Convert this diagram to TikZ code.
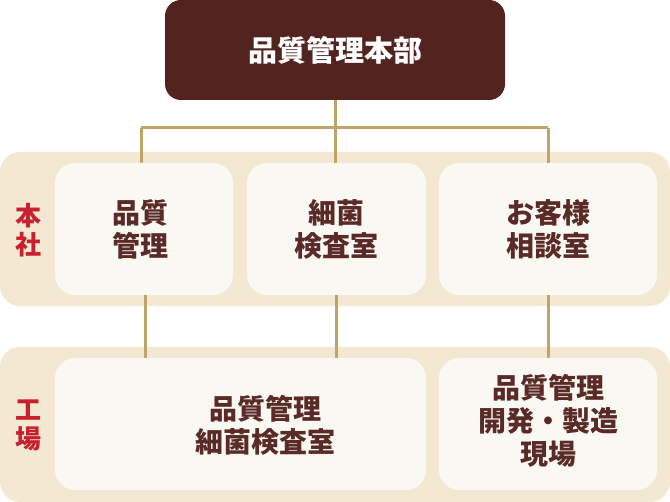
\documentclass[tikz,border=0pt]{standalone}
\usepackage{fontspec}
\newfontfamily\jp{Noto Sans CJK JP}
\definecolor{maroon}{HTML}{52231F}
\definecolor{txt}{HTML}{5A2A27}
\definecolor{band}{HTML}{F3E9D3}
\definecolor{card}{HTML}{FAF8F2}
\definecolor{wire}{HTML}{BFA46A}
\definecolor{lab}{HTML}{C8202F}
\tikzset{
  bandbox/.style={fill=band,rounded corners=20pt},
  cardbox/.style={fill=card,rounded corners=20pt,minimum height=132pt,inner sep=0pt},
  cardtext/.style={text=txt,font=\jp\bfseries\fontsize{28}{33}\selectfont,align=center},
  sidelab/.style={text=lab,font=\jp\bfseries\fontsize{26}{29}\selectfont,align=center},
  wireline/.style={draw=wire,line width=3pt}
}
\begin{document}
\begin{tikzpicture}[x=1pt,y=-1pt]
\useasboundingbox (0,0) rectangle (670,502);
% bands
\path[bandbox] (0,152) rectangle (670,306);
\path[bandbox] (0,347) rectangle (670,502);
% top node
\node[fill=maroon,rounded corners=16pt,minimum width=340pt,minimum height=100pt,inner sep=0pt,
      text=white,font=\jp\bfseries\fontsize{29}{32}\selectfont] (top) at (335,50) {品質管理本部};
% connector coordinates
\coordinate (j) at (335,128);
\coordinate (jl) at (141,128);
\coordinate (jr) at (548,128);
\coordinate (b1t) at (141,170);
\coordinate (b2t) at (335,170);
\coordinate (b3t) at (548,170);
\coordinate (b1b) at (145,290);
\coordinate (b4t) at (145,365);
\coordinate (b2b) at (336,290);
\coordinate (b4u) at (336,365);
\coordinate (b3b) at (548,290);
\coordinate (b5t) at (548,365);
% wires
\draw[wireline] (top.south) -- (j);
\draw[wireline] (jl) -- (jr);
\draw[wireline] (jl) -- (b1t);
\draw[wireline] (j) -- (b2t);
\draw[wireline] (jr) -- (b3t);
\draw[wireline] (b1b) -- (b4t);
\draw[wireline] (b2b) -- (b4u);
\draw[wireline] (b3b) -- (b5t);
% cards
\node[cardbox,minimum width=178pt] (b1) at (144,229) {};
\node[cardbox,minimum width=179pt] (b2) at (336.5,229) {};
\node[cardbox,minimum width=218pt] (b3) at (548,229) {};
\node[cardbox,minimum width=371pt] (b4) at (240.5,424) {};
\node[cardbox,minimum width=218pt] (b5) at (548,424) {};
% texts
\node[cardtext] (t1) at (140,229) {品質\\管理};
\node[cardtext] (t2) at (336.5,229) {細菌\\検査室};
\node[cardtext] (t3) at (548,229) {お客様\\相談室};
\node[cardtext] (t4) at (265,425) {品質管理\\細菌検査室};
\node[cardtext] (t5) at (548,421) {品質管理\\開発・製造\\現場};
\node[sidelab] (l1) at (29,230) {本\\社};
\node[sidelab] (l2) at (29,425) {工\\場};
\end{tikzpicture}
\end{document}
